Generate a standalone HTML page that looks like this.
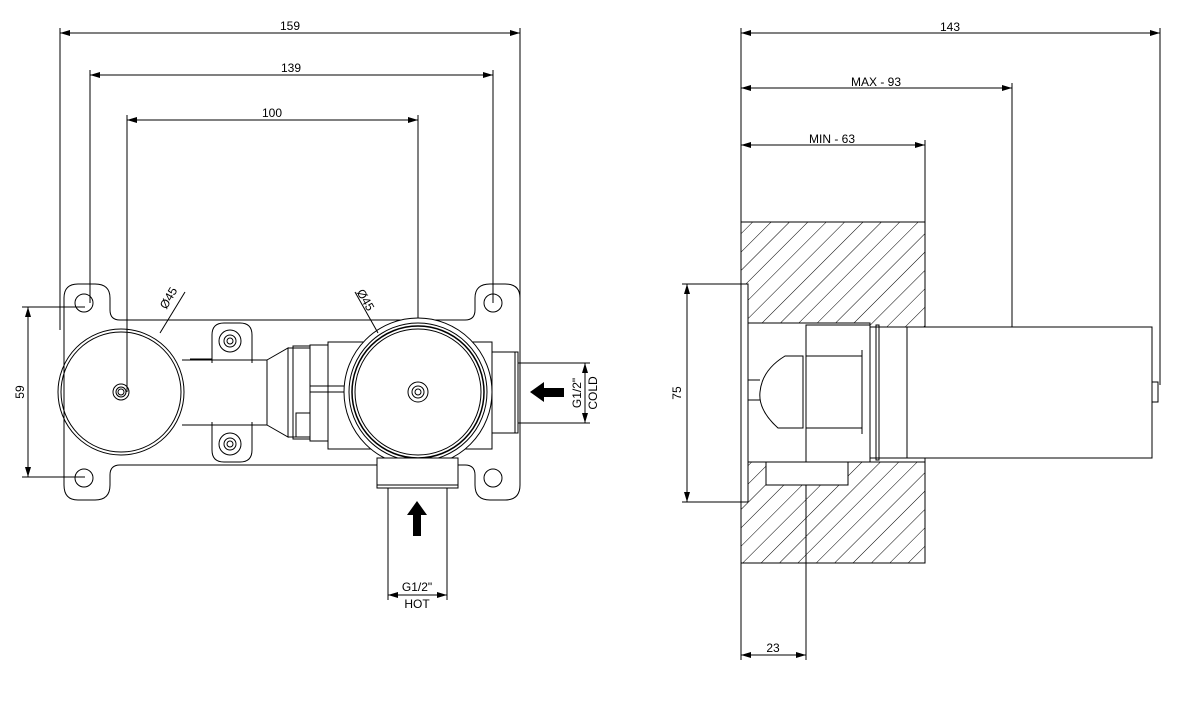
<!DOCTYPE html>
<html><head><meta charset="utf-8"><style>
html,body{margin:0;padding:0;background:#fff;}
svg{display:block;}
text{font-family:"Liberation Sans",sans-serif;font-size:12px;fill:#000;}
</style></head><body>
<svg width="1194" height="727" viewBox="0 0 1194 727" xmlns="http://www.w3.org/2000/svg">
<defs>
<marker id="a" viewBox="0 0 10 6" refX="10" refY="3" markerWidth="10" markerHeight="6" orient="auto-start-reverse" markerUnits="userSpaceOnUse"><path d="M0,0 L10,3 L0,6 z" fill="#000"/></marker>
<pattern id="h" width="13" height="13" patternUnits="userSpaceOnUse" patternTransform="rotate(45)"><line x1="0" y1="0" x2="0" y2="13" stroke="#000" stroke-width="1"/></pattern>
</defs>
<g fill="none" stroke="#000" stroke-width="1">
<line x1="60" y1="28" x2="60" y2="330"/><line x1="520" y1="28" x2="520" y2="300"/>
<line x1="60" y1="33" x2="520" y2="33" marker-start="url(#a)" marker-end="url(#a)"/>
<line x1="90" y1="70" x2="90" y2="303"/><line x1="493" y1="70" x2="493" y2="303"/>
<line x1="90" y1="75" x2="493" y2="75" marker-start="url(#a)" marker-end="url(#a)"/>
<line x1="127" y1="115" x2="127" y2="392"/><line x1="418" y1="115" x2="418" y2="392"/>
<line x1="127" y1="120" x2="418" y2="120" marker-start="url(#a)" marker-end="url(#a)"/>
<line x1="22" y1="307" x2="85" y2="307"/><line x1="22" y1="477" x2="85" y2="477"/>
<line x1="28" y1="307" x2="28" y2="477" marker-start="url(#a)" marker-end="url(#a)"/>
<path d="M64,298 Q64,284 78,284 L95,284 Q110,284 110,298 L110,310 Q110,320 120,320 L465,320 Q475,320 475,310 L475,298 Q475,284 490,284 L505,284 Q520,284 520,298 L520,485 Q520,500 505,500 L490,500 Q475,500 475,485 L475,475 Q475,465 465,465 L120,465 Q110,465 110,475 L110,485 Q110,500 95,500 L78,500 Q64,500 64,485 Z"/>
<circle cx="84" cy="303" r="9"/><circle cx="493" cy="303" r="9"/>
<circle cx="84" cy="478" r="9"/><circle cx="493" cy="478" r="9"/>
<circle cx="121" cy="392" r="63"/><circle cx="121" cy="392" r="60"/>
<circle cx="121" cy="392" r="8"/><circle cx="121" cy="392" r="5"/><circle cx="121" cy="392" r="3"/>
<path d="M182,360 L267,360 M182,425 L267,425 M267,360 L288,348 L288,437 L267,425"/>
<line x1="267" y1="360" x2="267" y2="425"/>
<rect x="288" y="348" width="22" height="89"/><rect x="293" y="346" width="17" height="93"/>
<rect x="310" y="345" width="18" height="96"/>
<path d="M212,363 L212,335 Q212,323 224,323 L240,323 Q252,323 252,335 L252,363"/>
<circle cx="230" cy="341" r="11"/><circle cx="230" cy="341" r="6"/><circle cx="230" cy="341" r="3"/>
<path d="M212,422 L212,450 Q212,462 224,462 L240,462 Q252,462 252,450 L252,422"/>
<circle cx="230" cy="444" r="11"/><circle cx="230" cy="444" r="6"/><circle cx="230" cy="444" r="3"/>
<line x1="190" y1="359" x2="212" y2="359"/>
<rect x="328" y="342" width="164" height="107"/>
<line x1="310" y1="386" x2="345" y2="386"/><line x1="310" y1="392" x2="345" y2="392"/>
<rect x="296" y="413" width="14" height="24"/>
<circle cx="418" cy="392" r="74" fill="#fff"/>
<circle cx="418" cy="392" r="69"/><circle cx="418" cy="392" r="66" stroke-width="1.5"/><circle cx="418" cy="392" r="63"/>
<circle cx="418" cy="392" r="10"/><circle cx="418" cy="392" r="6"/><circle cx="418" cy="392" r="3"/>
<rect x="492" y="352" width="26" height="81" fill="#fff"/><line x1="515" y1="352" x2="515" y2="433"/>
<path d="M518,363 L590,363 M518,423 L590,423"/>
<line x1="585" y1="363" x2="585" y2="423" marker-start="url(#a)" marker-end="url(#a)"/>
<rect x="377" y="458" width="81" height="30" fill="#fff"/><line x1="377" y1="485" x2="458" y2="485"/>
<path d="M388,488 L388,600 M447,488 L447,600"/>
<line x1="388" y1="595" x2="447" y2="595" marker-start="url(#a)" marker-end="url(#a)"/>
<line x1="185" y1="292" x2="160" y2="333"/><line x1="355" y1="292" x2="378" y2="333"/>
<line x1="741" y1="28" x2="741" y2="660"/><line x1="1160" y1="28" x2="1160" y2="385"/>
<line x1="741" y1="33" x2="1160" y2="33" marker-start="url(#a)" marker-end="url(#a)"/>
<line x1="1012" y1="83" x2="1012" y2="327"/>
<line x1="741" y1="88" x2="1012" y2="88" marker-start="url(#a)" marker-end="url(#a)"/>
<line x1="925" y1="140" x2="925" y2="222"/>
<line x1="741" y1="145" x2="925" y2="145" marker-start="url(#a)" marker-end="url(#a)"/>
<path d="M741,222 L925,222 L925,327 L870,327 L870,462 L925,462 L925,563 L741,563 Z M748,323 L870,323 L870,462 L848,462 L848,485 L766,485 L766,462 L748,462 Z" fill="url(#h)" fill-rule="evenodd"/>
<rect x="741" y="222" width="184" height="341"/>
<rect x="741" y="284" width="7" height="218" fill="#fff"/>
<line x1="682" y1="284" x2="741" y2="284"/><line x1="682" y1="502" x2="741" y2="502"/>
<line x1="687" y1="284" x2="687" y2="502" marker-start="url(#a)" marker-end="url(#a)"/>
<rect x="748" y="323" width="122" height="139" fill="#fff"/>
<rect x="766" y="462" width="82" height="23" fill="#fff"/>
<rect x="806" y="325" width="64" height="137"/>
<rect x="870" y="327" width="40" height="131" fill="#fff"/>
<rect x="876" y="325" width="3" height="135"/>
<path d="M803,356 L803,428 L778,428 Q758,410 760,392 Q762,370 785,356 Z"/>
<line x1="806" y1="356" x2="862" y2="356"/><line x1="806" y1="428" x2="862" y2="428"/>
<line x1="862" y1="350" x2="862" y2="434"/>
<path d="M748,380 L760,380 M748,400 L760,400"/>
<rect x="907" y="327" width="245" height="131" fill="#fff"/>
<rect x="1152" y="382" width="6" height="20"/>
<line x1="806" y1="485" x2="806" y2="660"/>
<line x1="741" y1="655" x2="806" y2="655" marker-start="url(#a)" marker-end="url(#a)"/>
</g>
<path d="M530,392 L544,382 L544,388 L564,388 L564,397 L544,397 L544,402 Z" fill="#000"/>
<path d="M417,501 L427,515 L421,515 L421,536 L413,536 L413,515 L407,515 Z" fill="#000"/>
<text x="290" y="30" text-anchor="middle">159</text>
<text x="291" y="72" text-anchor="middle">139</text>
<text x="272" y="117" text-anchor="middle">100</text>
<text x="26" y="392" text-anchor="middle" transform="rotate(-90 26 392)" dy="-2">59</text>
<text x="172" y="300" transform="rotate(-60 172 300)" text-anchor="middle">Ø45</text>
<text x="362" y="302" transform="rotate(60 362 302)" text-anchor="middle">Ø45</text>
<text x="583" y="393" transform="rotate(-90 583 393)" text-anchor="middle" dy="-2">G1/2"</text>
<text x="599" y="393" transform="rotate(-90 599 393)" text-anchor="middle" dy="-2">COLD</text>
<text x="417" y="591" text-anchor="middle">G1/2"</text>
<text x="417" y="608" text-anchor="middle">HOT</text>
<text x="950" y="31" text-anchor="middle">143</text>
<text x="876" y="86" text-anchor="middle">MAX - 93</text>
<text x="832" y="143" text-anchor="middle">MIN - 63</text>
<text x="683" y="393" transform="rotate(-90 683 393)" text-anchor="middle" dy="-2">75</text>
<text x="773" y="652" text-anchor="middle">23</text>
</svg>
</body></html>
